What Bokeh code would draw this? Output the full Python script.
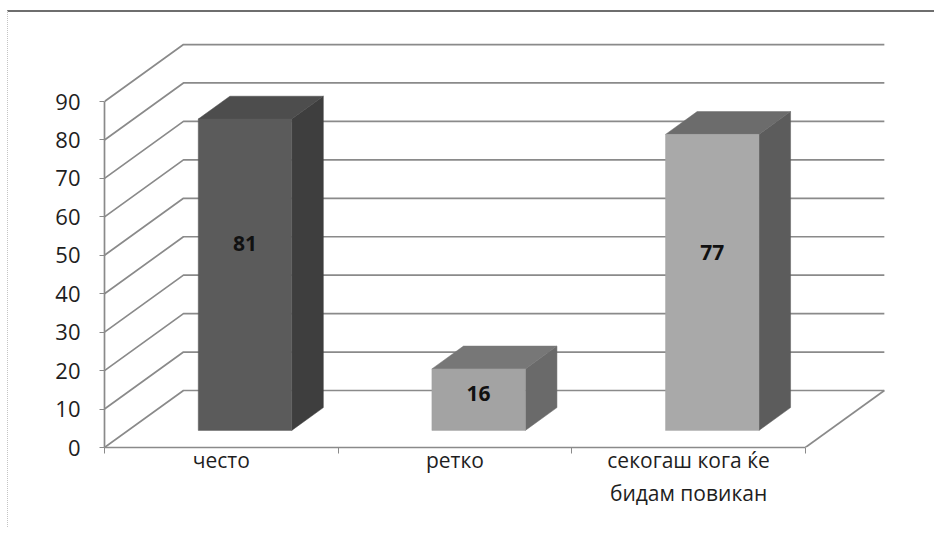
from bokeh.plotting import figure
from bokeh.models import FixedTicker, Range1d, ColumnDataSource, LabelSet
from bokeh.embed import file_html
from bokeh.resources import INLINE
from bokeh.core.properties import value

# ---- data ----
categories = ["често", "ретко", "секогаш кога ќе\nбидам повикан"]
values = [81, 16, 77]
y_ticks = [0, 10, 20, 30, 40, 50, 60, 70, 80, 90]

# ---- styles ----
front_colors = ["#5b5b5b", "#a3a3a3", "#a9a9a9"]
side_colors = ["#3e3e3e", "#6a6a6a", "#5c5c5c"]
top_colors = ["#4d4d4d", "#777777", "#6c6c6c"]
GRID = "#8a8a8a"
FONT = "Open Sans"
TXT = "#1e1e1e"

# 3D projection constants (in data units)
DX = 0.338   # depth shift along x (category units)
DY = 14.83   # depth shift along y (value units)
F0, F1 = 0.30, 0.70   # bar front / back depth planes
GAP, BW = 0.30, 0.40  # gap before bar, bar width (category units)
NCAT = len(categories)

p = figure(width=927, height=517,
           x_range=Range1d(0, 3.42), y_range=Range1d(0, 106.4),
           output_backend="svg", toolbar_location=None,
           min_border_left=96, min_border_right=32,
           min_border_top=26, min_border_bottom=82,
           styles={"margin-top": "10px", "margin-left": "7px",
                   "border-top": "2px solid #6e6e6e",
                   "border-left": "1px dotted #c4c4c4"})
p.outline_line_color = None
p.xgrid.visible = False
p.ygrid.visible = False
p.background_fill_color = "white"
p.border_fill_color = "white"

# ---- back wall / side wall gridlines ----
gx, gy = [], []
for v in y_ticks:
    gx.append([0, DX, NCAT + DX])
    gy.append([v, v + DY, v + DY])
# floor right edge
gx.append([NCAT, NCAT + DX])
gy.append([0, DY])
p.multi_line(gx, gy, line_color=GRID, line_width=1.7)

# ---- 3D bars ----
fx, fy, sx, sy, tx, ty = [], [], [], [], [], []
ddx = (F1 - F0) * DX
ddy = (F1 - F0) * DY
lx, ly, lt = [], [], []
for i, v in enumerate(values):
    x0 = i + GAP + F0 * DX
    x1 = x0 + BW
    y0 = F0 * DY
    y1 = y0 + v
    fx.append([x0, x1, x1, x0]); fy.append([y0, y0, y1, y1])
    sx.append([x1, x1 + ddx, x1 + ddx, x1]); sy.append([y0, y0 + ddy, y1 + ddy, y1])
    tx.append([x0, x1, x1 + ddx, x0 + ddx]); ty.append([y1, y1, y1 + ddy, y1 + ddy])
    lx.append((x0 + x1) / 2)
    ly.append(y0 + 0.6 * v)
    lt.append(str(v))

p.patches(sx, sy, fill_color=side_colors, line_color=side_colors, line_width=0.5)
p.patches(tx, ty, fill_color=top_colors, line_color=top_colors, line_width=0.5)
p.patches(fx, fy, fill_color=front_colors, line_color=front_colors, line_width=0.5)

src = ColumnDataSource(dict(x=lx, y=ly, t=lt))
p.add_layout(LabelSet(x="x", y="y", text="t", source=src,
                      text_align="center", text_baseline="middle",
                      text_font=value(FONT), text_font_style="bold",
                      text_font_size="21px", text_color="#111111"))

# ---- axes ----
ya = p.yaxis[0]
ya.ticker = FixedTicker(ticks=y_ticks, minor_ticks=[])
ya.bounds = (0, 90)
ya.axis_line_color = GRID
ya.axis_line_width = 1.7
ya.major_tick_line_color = GRID
ya.major_tick_in = 0
ya.major_tick_out = 5
ya.minor_tick_line_color = None
ya.major_label_standoff = 19
ya.major_label_text_font = FONT
ya.major_label_text_font_size = "22px"
ya.major_label_text_color = TXT

xa = p.xaxis[0]
centers = [i + 0.5 for i in range(NCAT)]
xa.ticker = FixedTicker(ticks=centers, minor_ticks=list(range(NCAT + 1)))
xa.bounds = (0, NCAT)
xa.major_label_overrides = {c: lab for c, lab in zip(centers, categories)}
xa.axis_line_color = GRID
xa.axis_line_width = 1.7
xa.major_tick_line_color = None
xa.major_tick_in = 0
xa.major_tick_out = 0
xa.minor_tick_line_color = GRID
xa.minor_tick_in = 0
xa.minor_tick_out = 6
xa.major_label_standoff = -8
xa.major_label_text_font = FONT
xa.major_label_text_font_size = "21px"
xa.major_label_text_color = TXT

open("out.html", "w").write(file_html(p, INLINE))
